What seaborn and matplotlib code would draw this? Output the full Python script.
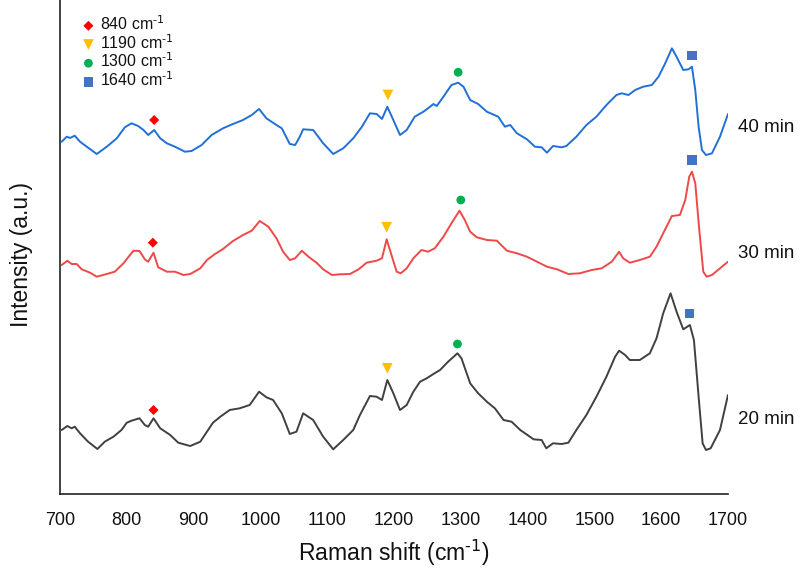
import numpy as np
import pandas as pd
import matplotlib
matplotlib.use("Agg")
import matplotlib.pyplot as plt
import seaborn as sns
from matplotlib import font_manager

# ---------------- data ----------------
x_40 = [702.5, 710, 715, 722, 730, 740, 755, 770, 785, 797, 807, 817, 825, 832, 841, 850, 860, 872, 887, 897,
        912, 927, 944, 959, 974, 987, 998, 1009, 1024, 1032, 1044, 1052, 1059, 1064, 1079, 1094, 1109, 1124,
        1139, 1152, 1164, 1174, 1182, 1190, 1199, 1209, 1219, 1231, 1244, 1254, 1259, 1264, 1274, 1286, 1296,
        1304, 1314, 1326, 1339, 1356, 1366, 1374, 1384, 1399, 1411, 1421, 1429, 1438, 1451, 1458, 1473, 1488,
        1503, 1518, 1533, 1541, 1551, 1561, 1573, 1586, 1596, 1606, 1616, 1623, 1633, 1641, 1646, 1651, 1656,
        1661, 1667, 1676, 1688, 1700]
y_40 = [352.3, 357.3, 356, 358.3, 352.3, 347.3, 340, 347.3, 355.7, 366.7, 370.7, 368, 364, 359, 364, 355.7,
        350.7, 347.3, 342.3, 343, 349, 359, 365.7, 370, 374, 379, 385, 375.7, 369, 365.7, 350, 349, 357.3,
        364.7, 364, 350.7, 340, 345.7, 355.7, 367.3, 380.7, 380, 375, 387.3, 374, 359, 364, 377.3, 382.3,
        387.3, 390, 388, 397.3, 409, 411.3, 407.3, 394, 390, 382.3, 377.3, 367.3, 369, 360.7, 354.7, 347.3,
        346.7, 341.3, 348, 346.7, 348, 357.3, 369, 377.3, 389, 399, 400.7, 399, 404, 407.3, 409, 417.3, 430.7,
        445.7, 437.3, 424, 424.7, 427.3, 404, 367.3, 344, 339, 340.7, 357.3, 380]

x_30 = [702.5, 711, 717.5, 725, 732.5, 745, 755, 770, 782, 795, 802, 810, 819, 827, 832, 840, 847, 860, 872,
        885, 895, 910, 920, 932, 944, 959, 974, 987, 999, 1012, 1024, 1034, 1044, 1052, 1062, 1072, 1084,
        1094, 1107, 1119, 1134, 1147, 1159, 1174, 1182, 1189, 1197, 1204, 1210, 1219, 1229, 1241, 1251, 1261,
        1274, 1286, 1298, 1306, 1314, 1324, 1339, 1354, 1369, 1384, 1399, 1414, 1429, 1444, 1461, 1478, 1496,
        1511, 1526, 1537, 1543, 1553, 1568, 1583, 1593, 1603, 1616, 1628, 1636, 1642, 1646, 1651, 1657, 1663,
        1668, 1676, 1688, 1700]
y_30 = [229, 233.3, 230, 230, 224.7, 221.3, 217.3, 220, 222.3, 230.7, 236.7, 243.3, 243, 234.7, 232.3, 241.3,
        226.7, 222.3, 222.3, 219, 220, 225.7, 234, 240, 245, 253, 259, 263.3, 273, 267.3, 255.7, 242.3, 234,
        235.7, 243.3, 237.3, 231.3, 224.7, 219, 219.7, 220, 224.7, 231.3, 233.3, 235.7, 254.7, 237.3, 222.3,
        220.7, 225.7, 235.7, 244, 242.3, 245.7, 257.3, 270.7, 283.3, 274, 262.3, 256.7, 254, 253.3, 243.3,
        240.7, 237.3, 232.3, 227.3, 224.7, 220, 220.7, 224, 225.7, 232.3, 242.3, 235.7, 231.3, 234, 237.3,
        247.3, 260.7, 278, 279, 294, 317.3, 322.3, 310.7, 264, 222.3, 217.3, 219, 225.7, 232.3]

x_20 = [702.5, 711, 717.5, 722, 730, 742, 756, 767, 780, 792, 800, 807, 819, 827, 832, 840, 850, 865, 877,
        895, 910, 920, 929, 940, 954, 969, 984, 998, 1009, 1019, 1032, 1044, 1054, 1064, 1079, 1094, 1109,
        1124, 1139, 1149, 1164, 1174, 1182, 1190, 1199, 1209, 1219, 1229, 1239, 1249, 1259, 1269, 1281, 1295,
        1301, 1314, 1326, 1339, 1351, 1364, 1376, 1389, 1409, 1421, 1428, 1438, 1451, 1461, 1473, 1488, 1503,
        1518, 1531, 1537, 1546, 1553, 1568, 1583, 1593, 1603, 1614, 1623, 1633, 1643, 1649, 1656, 1662, 1667,
        1674, 1688, 1700]
y_20 = [64, 68, 65.7, 67.3, 60.7, 52.3, 45, 52.3, 57.3, 64, 71.3, 73.3, 75.7, 69, 67.3, 75.7, 65.7, 59, 51.3,
        48, 52.3, 62.3, 71.3, 77.3, 84, 85.7, 89, 102.3, 96.7, 94, 80.7, 60, 62.3, 80.7, 74, 57.3, 44.7, 54,
        64, 79, 98, 97.3, 94, 114, 100.7, 84, 89, 102.3, 112.3, 115.7, 120, 124, 132.3, 140.7, 135.7, 110.7,
        100.7, 92.3, 85.7, 74, 72.3, 64, 54.7, 54, 45.7, 50.7, 50, 51.3, 64, 79, 97.3, 117.3, 137.3, 143.3,
        139, 134, 134, 140.7, 155.7, 180.7, 200.7, 182.3, 164.7, 169, 154, 97.3, 50.7, 44, 45.7, 64, 99]

series_names = ["40 min", "30 min", "20 min"]
series_colors = ["#2070d8", "#f04848", "#404040"]

peak_labels = ["840 cm$^{\\text{-1}}$", "1190 cm$^{\\text{-1}}$", "1300 cm$^{\\text{-1}}$", "1640 cm$^{\\text{-1}}$"]
peak_markers = ["D", "v", "o", "s"]
peak_colors = ["#ff0000", "#ffc000", "#00b050", "#4472c4"]
# marker positions (wavenumber, intensity) per peak, for 40/30/20 min
peak_x = [[841, 839, 840], [1191, 1189, 1190], [1296, 1300, 1295], [1646, 1646, 1642]]
peak_y = [[374, 251.3, 84], [399, 266.7, 125.7], [421.7, 294, 150], [438.3, 334, 180.7]]

label_y = [367, 241, 74]

# ---------------- style ----------------
sns.set_theme(style="white")


def pick(fams):
    out = []
    for f in fams:
        try:
            font_manager.findfont(f, fallback_to_default=False)
            out.append(f)
        except Exception:
            pass
    return out + ["DejaVu Sans"]


reg = pick(["Liberation Sans", "Arial"])
plt.rcParams["font.family"] = reg
plt.rcParams["mathtext.default"] = "regular"

fig = plt.figure(figsize=(8.04, 5.72), dpi=100)
ax = fig.add_axes([60 / 804, 1 - 494 / 572, 668 / 804, 494 / 572])

frames = []
for name, xs, ys in zip(series_names, [x_40, x_30, x_20], [y_40, y_30, y_20]):
    frames.append(pd.DataFrame({"shift": xs, "intensity": ys, "time": name}))
df = pd.concat(frames, ignore_index=True)

for name, col in zip(series_names, series_colors):
    sub = df[df["time"] == name]
    sns.lineplot(data=sub, x="shift", y="intensity", color=col, linewidth=1.4,
                 sort=False, estimator=None, ax=ax, legend=False)

marker_sizes = [26, 60, 40, 46]
for lab, mk, col, px, py, sz in zip(peak_labels, peak_markers, peak_colors, peak_x, peak_y, marker_sizes):
    sns.scatterplot(x=px, y=py, marker=mk, color=col, s=sz, edgecolor="none",
                    ax=ax, label=lab, zorder=5, clip_on=False)

for name, yy in zip(series_names, label_y):
    ax.text(1715, yy, name, fontsize=13.5, ha="left", va="center", color="#111111", clip_on=False)

ax.set_xlim(700, 1700)
ax.set_ylim(0, 494)
ax.set_xticks(np.arange(700, 1701, 100))
ax.set_xticks(np.arange(750, 1700, 100), minor=True)
ax.set_yticks([])
ax.tick_params(axis="x", which="major", direction="in", length=5, width=1.2, color="#222222", pad=13,
               labelsize=13, labelcolor="#111111")
ax.tick_params(axis="x", which="minor", direction="in", length=4, width=1.2, color="#222222")

for s in ["top", "right"]:
    ax.spines[s].set_visible(False)
for s in ["left", "bottom"]:
    ax.spines[s].set_color("#222222")
    ax.spines[s].set_linewidth(1.2)

ax.set_xlabel("Raman shift (cm$^{\\text{-1}}$)", fontsize=16.5, color="#111111")
ax.xaxis.set_label_coords(0.5, -0.12)
ax.xaxis.label.set_va("center")
ax.set_ylabel("Intensity (a.u.)", fontsize=16.5, color="#111111")
ax.yaxis.set_label_coords(-0.057, 0.484)
ax.yaxis.label.set_va("center")

leg = ax.legend(loc="upper left", bbox_to_anchor=(0.021, 0.984), frameon=False, fontsize=11.5,
                handlelength=1.0, handletextpad=0.2, labelspacing=0.0, borderaxespad=0,
                markerscale=1.0)
for t in leg.get_texts():
    t.set_color("#111111")

fig.savefig("out.png", dpi=100)
